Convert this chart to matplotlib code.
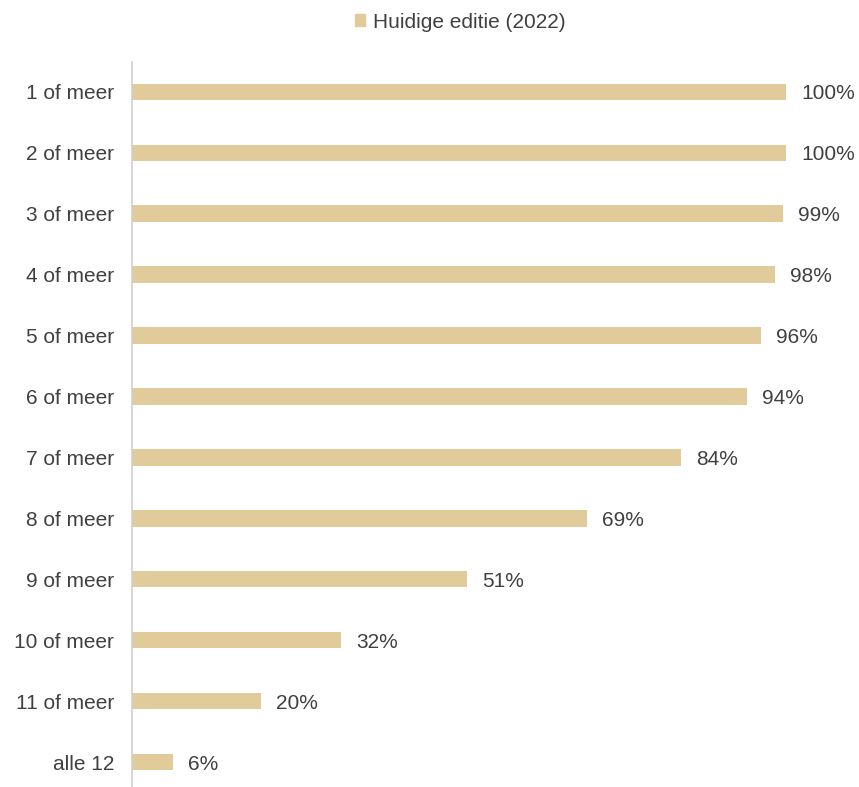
import matplotlib
matplotlib.use("Agg")
import matplotlib.pyplot as plt
from matplotlib.patches import Patch

categories = ["1 of meer", "2 of meer", "3 of meer", "4 of meer", "5 of meer",
              "6 of meer", "7 of meer", "8 of meer", "9 of meer", "10 of meer",
              "11 of meer", "alle 12"]
# bar lengths as measured (unrounded); labels as printed
values = [100, 100, 99.5, 98.3, 96.2, 94.0, 83.9, 69.6, 51.2, 32.0, 19.7, 6.3]
labels = ["100%", "100%", "99%", "98%", "96%", "94%", "84%", "69%", "51%",
          "32%", "20%", "6%"]
series_name = "Huidige editie (2022)"

BAR_COLOR = "#E2CB9A"
TEXT_COLOR = "#404040"

plt.rcParams["font.family"] = ["Liberation Sans", "DejaVu Sans"]

fig = plt.figure(figsize=(8.59, 7.87), dpi=100)
ax = fig.add_axes([132 / 859, 0, (786 - 132) / 859, (787 - 62) / 787])

y = list(range(len(categories)))
ax.barh(y, values, height=0.27, color=BAR_COLOR)
for yi, v, lab in zip(y, values, labels):
    ax.text(v + 2.3, yi, lab, va="center_baseline", ha="left",
            fontsize=15, color=TEXT_COLOR)

ax.set_xlim(0, 100)
ax.set_ylim(11.41, -0.49)
ax.set_yticks(y)
ax.set_yticklabels(categories, fontsize=15, color=TEXT_COLOR,
                   va="center_baseline")
ax.tick_params(axis="y", length=0, pad=13)
ax.set_xticks([])
for s in ["top", "right", "bottom"]:
    ax.spines[s].set_visible(False)
ax.spines["left"].set_color("#D0D0D0")
ax.spines["left"].set_linewidth(1.2)

fig.legend(handles=[Patch(color=BAR_COLOR, label=series_name)],
           loc="center", bbox_to_anchor=(460 / 859, 1 - 22 / 787),
           frameon=False, fontsize=15, labelcolor=TEXT_COLOR,
           handlelength=0.5, handleheight=0.5, handletextpad=0.35)

fig.savefig("out.png", dpi=100)
